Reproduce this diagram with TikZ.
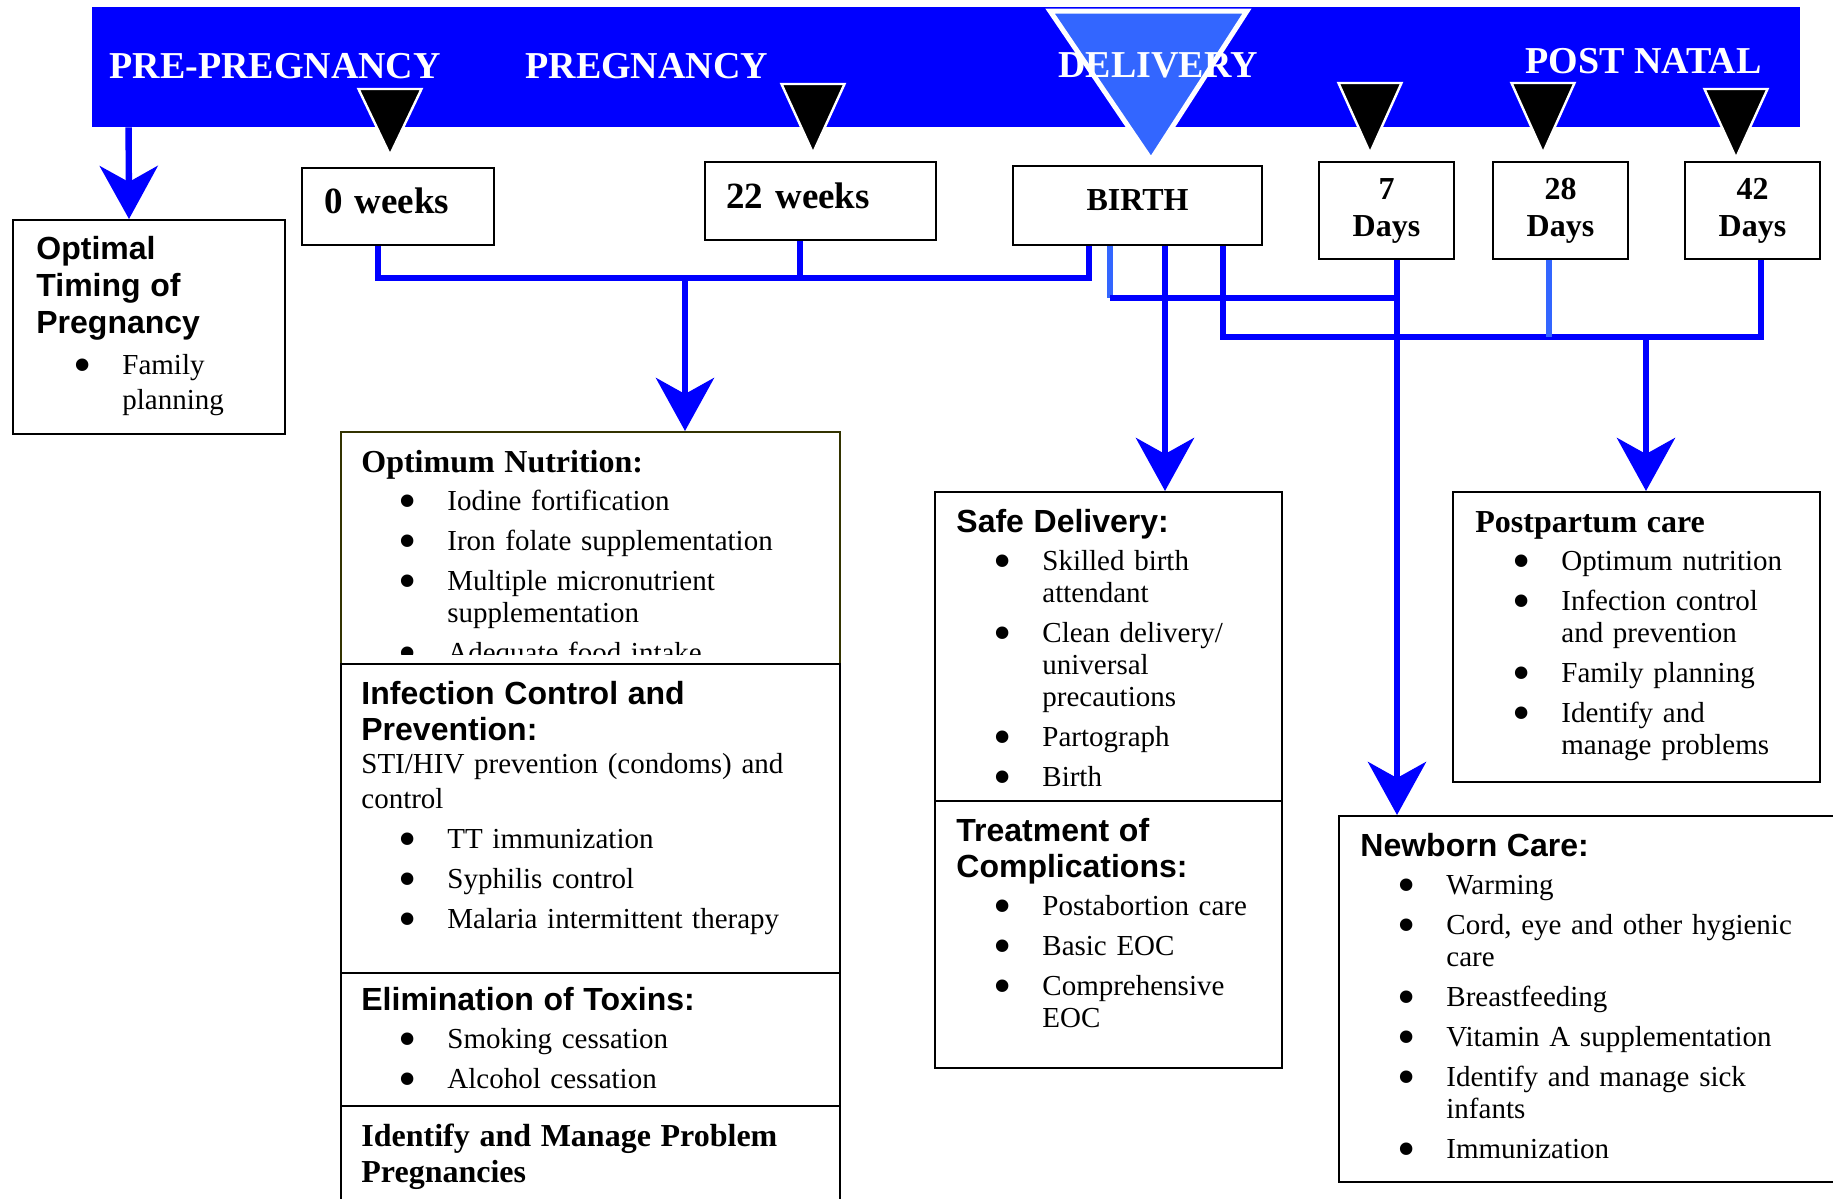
\documentclass[tikz,border=0pt]{standalone}
\usepackage{fontspec}
\usepackage{graphicx}
\setmainfont{Liberation Serif}
\setsansfont{Liberation Sans}
\usetikzlibrary{arrows.meta}

\definecolor{bandblue}{HTML}{0000FF}
\definecolor{lineblue}{HTML}{0000FF}
\definecolor{paleblue}{HTML}{3366FF}
\definecolor{nutborder}{HTML}{333300}

\newcommand{\hdsans}[2][18]{{\fontsize{16}{#1}\selectfont\sffamily\bfseries\noindent #2\par}\vskip-1pt}
\newcommand{\hdserif}[1]{{\fontsize{16}{18}\selectfont\bfseries\noindent #1\par}\vskip-1pt}
\newcommand{\bigbullet}{\raisebox{-4pt}{\scalebox{1.8}{\textbullet}}}
\newcommand{\bul}[1]{\par\vskip4pt{\leftskip=43pt\noindent\llap{\bigbullet\hspace{15.25pt}}#1\par}}
\newcommand{\txtline}[1]{{\baselineskip=17.5pt\noindent #1\par}}

\begin{document}
\begin{tikzpicture}[x=0.5pt, y=-0.5pt]
        % Styles
        \tikzstyle{band} = [rectangle, fill=bandblue, inner sep=0pt,
            minimum width=854pt, minimum height=60pt]
        \tikzstyle{phase} = [anchor=base west, inner sep=0pt, text=white,
            font=\fontsize{19}{19}\selectfont\bfseries]
        \tikzstyle{stage} = [rectangle, draw, line width=1pt, inner sep=0pt,
            font=\fontsize{18.5}{18.5}\selectfont\bfseries]
        \tikzstyle{day} = [rectangle, draw, line width=1pt, minimum width=67.5pt,
            minimum height=48.5pt, align=center, font=\fontsize{16}{18.5}\selectfont\bfseries]
        \tikzstyle{frame} = [rectangle, draw, line width=1pt, inner sep=0pt]
        \tikzstyle{content} = [anchor=north west, inner sep=0pt,
            font=\fontsize{14.5}{16}\selectfont]
        \tikzstyle{marker} = [fill=black, draw=white, line width=1.2pt]
        \tikzstyle{conn} = [draw=lineblue, line width=3.2pt]
        \tikzstyle{paleconn} = [draw=paleblue, line width=3.2pt]
        \tikzstyle{arr} = [conn, -{Stealth[length=26.5pt, width=29pt, inset=8pt]}]

        \useasboundingbox (0,0) rectangle (1833,1199);
        \clip (0,0) rectangle (1833,1199);

        % Phase band
        \node [band] (band) at (946,67) {};
        \draw [draw=white, fill=paleblue, line width=2.5pt] (1050,11) -- (1247,11) -- (1151,160) -- cycle;
        \foreach \x/\t/\b in {390/89/155, 813/84/153, 1370/83/153, 1543/83/153, 1736/89/158}
            \draw [marker] ({\x-31.5},\t) -- ({\x+31.5},\t) -- (\x,\b) -- cycle;
        \node [phase] (prepreg) at (109,78) {PRE-PREGNANCY};
        \node [phase] (preg) at (525,78) {PREGNANCY};
        \node [phase] (deliv) at (1058,77) {DELIVERY};
        \node [phase] (postnatal) at (1525,73) {POST NATAL};

        % Time points
        \node [stage, minimum height=38.5pt, text width=74pt, inner xsep=11pt, align=left,
            text height=13pt, text depth=6.5pt] (wk0) at (398,206.5) {0 weeks};
        \node [stage, minimum height=39pt, text width=94.5pt, inner xsep=10.5pt, align=left,
            text height=13pt, text depth=6pt] (wk22) at (820.5,201) {22 weeks};
        \node [stage, minimum width=124.5pt, minimum height=39.5pt, text height=11pt, text depth=6.5pt,
            font=\fontsize{16}{16}\selectfont\bfseries] (birth) at (1137.5,205.5) {BIRTH};
        \node [day] (d7) at (1386.5,210.5) {7\\Days};
        \node [day] (d28) at (1560.5,210.5) {28\\Days};
        \node [day] (d42) at (1752.5,210.5) {42\\Days};

        % Boxes
        \node [frame, minimum width=136pt, minimum height=107pt] (timing) at (149,327) {};
        \node [content, text width=120pt] (timingtxt) at (36,236)
            {\hdsans[18.5]{Optimal\newline Timing of\newline Pregnancy}{\baselineskip=17.5pt\bul{Family\newline planning}}};

        \node [frame, draw=nutborder, minimum width=249.5pt, minimum height=116pt] (nut) at (590.5,548) {};
        \node [frame, minimum width=249.5pt, minimum height=154.5pt] (inf) at (590.5,818.5) {};
        \node [frame, minimum width=249.5pt, minimum height=66.5pt] (elim) at (590.5,1039.5) {};
        \node [frame, minimum width=249.5pt, minimum height=54.5pt] (iden) at (590.5,1160.5) {};
        \begin{scope}
            \clip (nut.north west) rectangle ([yshift=5.5pt]nut.south east);
            \node [content, text width=235pt] (nuttxt) at (361,450)
                {\hdserif{Optimum Nutrition:}\bul{Iodine fortification}\bul{Iron folate supplementation}%
                 \bul{Multiple micronutrient\newline supplementation}\bul{Adequate food intake}};
        \end{scope}
        \node [content, text width=235pt] (inftxt) at (361,681)
            {\hdsans{Infection Control and\newline Prevention:}\txtline{STI/HIV prevention (condoms) and\newline control}%
             \bul{TT immunization}\bul{Syphilis control}\bul{Malaria intermittent therapy}};
        \node [content, text width=235pt] (elimtxt) at (361,987)
            {\hdsans{Elimination of Toxins:}\bul{Smoking cessation}\bul{Alcohol cessation}};
        \node [content, text width=235pt] (identxt) at (361,1124)
            {\hdserif{Identify and Manage Problem\newline Pregnancies}};

        \node [frame, minimum width=173.5pt, minimum height=154.5pt] (safe) at (1108.5,646.5) {};
        \node [frame, minimum width=173.5pt, minimum height=133.5pt] (treat) at (1108.5,934.5) {};
        \node [content, text width=160pt] (safetxt) at (956,509)
            {\hdsans{Safe Delivery:}\bul{Skilled birth\newline attendant}\bul{Clean delivery/\newline universal\newline precautions}%
             \bul{Partograph}\bul{Birth}};
        \node [content, text width=160pt] (treattxt) at (956,818)
            {\hdsans{Treatment of\newline Complications:}\bul{Postabortion care}\bul{Basic EOC}\bul{Comprehensive\newline EOC}};

        \node [frame, minimum width=183.5pt, minimum height=145pt] (post) at (1636.5,637) {};
        \node [content, text width=170pt] (posttxt) at (1475,511)
            {\hdserif{Postpartum care}\bul{Optimum nutrition}\bul{Infection control\newline and prevention}%
             \bul{Family planning}\bul{Identify and\newline manage problems}};

        \node [frame, minimum width=253pt, minimum height=183pt] (newb) at (1592,999) {};
        \node [content, text width=230pt] (newbtxt) at (1360,833)
            {\hdsans{Newborn Care:}\bul{Warming}\bul{Cord, eye and other hygienic\newline care}\bul{Breastfeeding}%
             \bul{Vitamin A supplementation}\bul{Identify and manage sick\newline infants}\bul{Immunization}};

        % Taps and bars
        \coordinate (bar1) at (0,278);
        \coordinate (bar2) at (0,298);
        \coordinate (bar3) at (0,337);
        \coordinate (w0) at ([xshift=-10pt]wk0.south);
        \coordinate (w22) at ([xshift=-10.25pt]wk22.south);
        \coordinate (b1) at ([xshift=-24.25pt]birth.south);
        \coordinate (b2) at ([xshift=-13.75pt]birth.south);
        \coordinate (b3) at ([xshift=13.75pt]birth.south);
        \coordinate (b4) at ([xshift=42.75pt]birth.south);
        \coordinate (s7) at ([xshift=5.25pt]d7.south);
        \coordinate (s28) at ([xshift=-5.75pt]d28.south);
        \coordinate (s42) at ([xshift=4.25pt]d42.south);
        \coordinate (tm1) at ([xshift=-10pt]timing.north);
        \coordinate (n1) at ([xshift=47.25pt]nut.north);
        \coordinate (sd1) at ([xshift=28.25pt]safe.north);
        \coordinate (pp1) at ([xshift=4.75pt]post.north);
        \coordinate (nb1) at ([xshift=-97.5pt]newb.north);

        % Connections
        \path [arr] ([xshift=18.5pt]band.south west) -- (tm1);
        \path [conn] (w0) -- (w0 |- bar1) -- (b1 |- bar1) -- (b1);
        \path [conn] (w22) -- (w22 |- bar1);
        \path [arr] (n1 |- bar1) -- (n1);
        \path [paleconn] (b2) -- (b2 |- bar2);
        \path [conn] (b2 |- bar2) -- (s7 |- bar2);
        \path [arr] (b3) -- (sd1);
        \path [conn] (b4) -- (b4 |- bar3) -- (s42 |- bar3) -- (s42);
        \path [paleconn] (s28) -- (s28 |- bar3);
        \path [arr] (s7) -- (nb1);
        \path [arr] (pp1 |- bar3) -- (pp1);
    \end{tikzpicture}
\end{document}
